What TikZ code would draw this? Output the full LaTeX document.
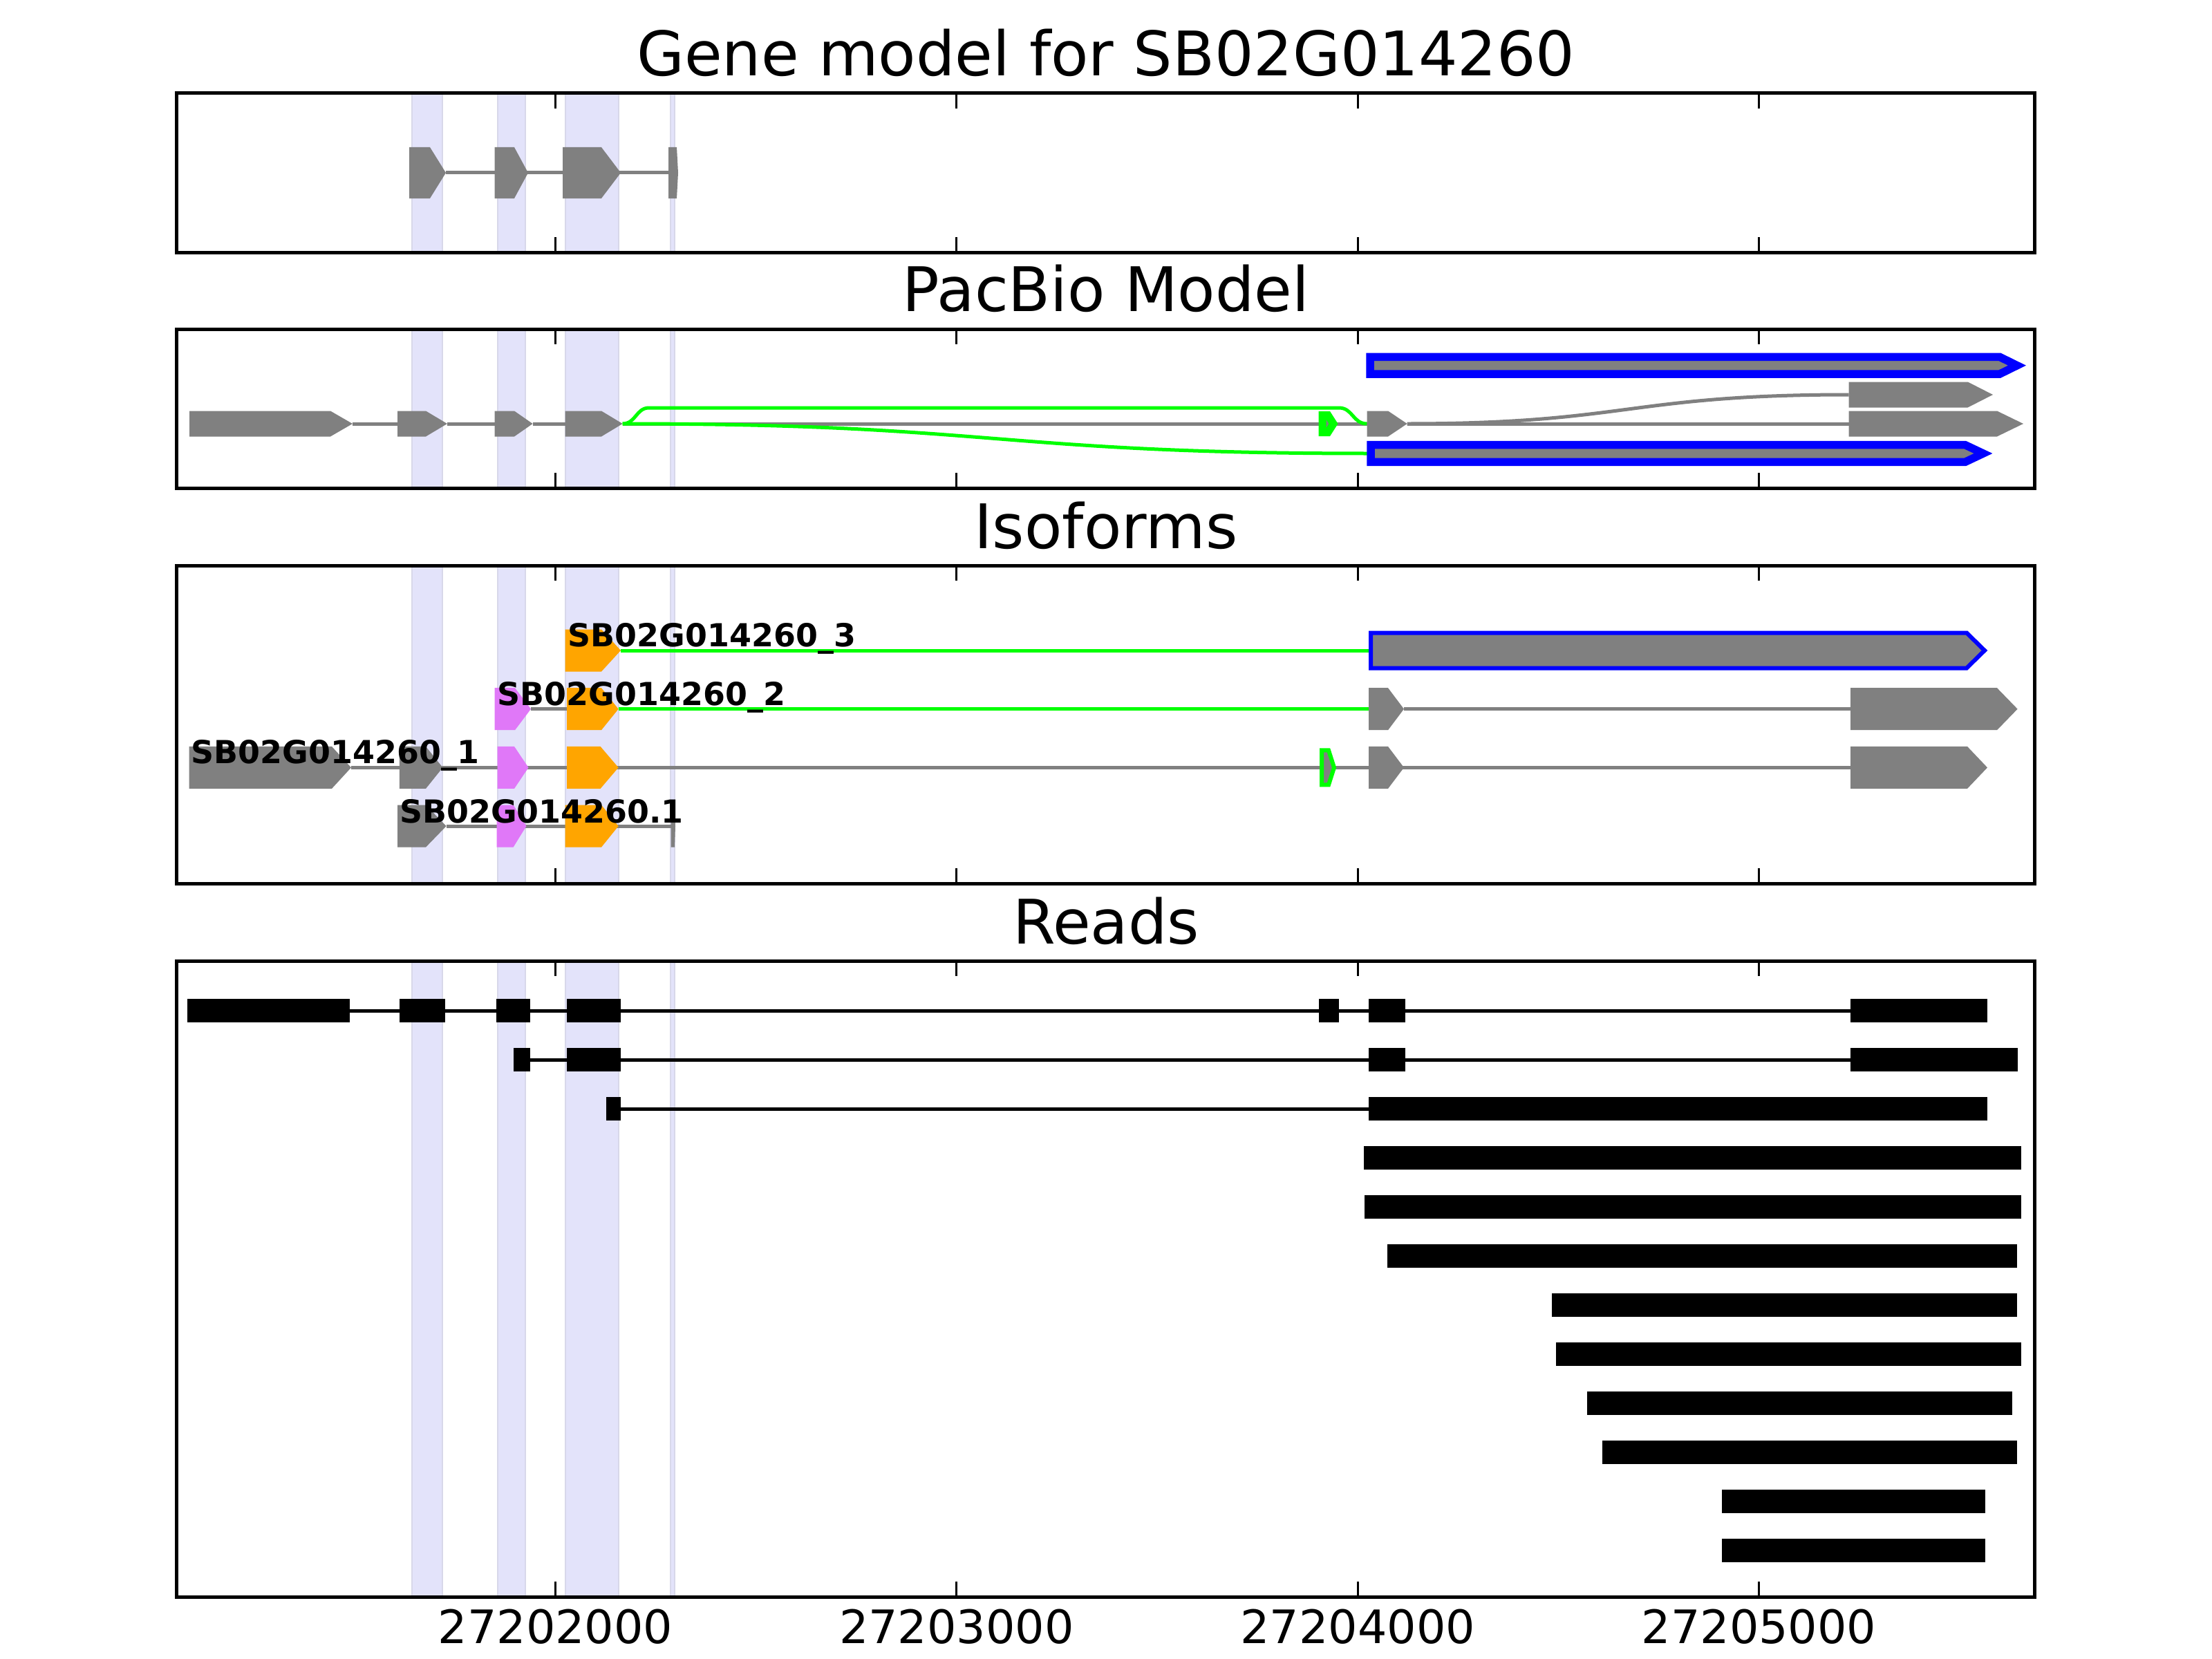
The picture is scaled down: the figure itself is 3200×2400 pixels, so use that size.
\documentclass[tikz,border=0pt]{standalone}
\usepackage{fontspec}
\setmainfont{DejaVu Sans}
\definecolor{exgray}{RGB}{128,128,128}
\definecolor{orng}{RGB}{255,165,0}
\definecolor{viol}{RGB}{224,120,248}
\definecolor{grn}{RGB}{0,255,0}
\definecolor{blu}{RGB}{0,0,255}
\definecolor{bandfill}{RGB}{227,227,250}
\definecolor{bandedge}{RGB}{216,216,234}
\newcommand{\gexon}[6]{\path[#6] (#1,#4-#5) -- (#2,#4-#5) -- (#3,#4) -- (#2,#4+#5) -- (#1,#4+#5) -- cycle;}
\tikzset{
  ex/.style={fill=exgray},
  exo/.style={fill=orng},
  exv/.style={fill=viol},
  bluebox/.style={fill=exgray, draw=blu, line width=11.5pt},
  blueboxthin/.style={fill=exgray, draw=blu, line width=6pt},
  grnbox/.style={fill=exgray, draw=grn, line width=11pt},
  grnboxthin/.style={fill=exgray, draw=grn, line width=6pt},
  intron/.style={draw=exgray, line width=5pt},
  gline/.style={draw=grn, line width=5pt},
  rline/.style={draw=black, line width=5pt},
  frame/.style={draw=black, line width=5pt},
  tickmark/.style={draw=black, line width=2.8pt},
  band/.style={fill=bandfill, draw=bandedge, line width=2.5pt},
  ttl/.style={font=\fontsize{88.9}{100}\selectfont, inner sep=0pt},
  tklbl/.style={font=\fontsize{66.7}{80}\selectfont, inner sep=0pt},
  lbl/.style={font=\fontsize{45.9}{54}\selectfont\bfseries, inner sep=0pt},
}
\begin{document}
\begin{tikzpicture}[x=1pt,y=-1pt]
\useasboundingbox (0,0) rectangle (3200,2400);
\fill[white] (0,0) rectangle (3200,2400);

% ---------- shaded exon bands in every panel ----------
\foreach \pt/\pb in {135/365, 476/706, 818/1278, 1390/2310}{
  \foreach \bl/\br in {596/640, 720/760, 818/895, 970/976}{
    \path[band] (\bl,\pt) rectangle (\br,\pb);
  }
}

% ---------- Panel 1: gene model ----------
\draw[intron] (645,250) -- (967,250);
\gexon{592}{622}{645}{250}{37}{ex}
\gexon{715.5}{744}{764}{250}{37}{ex}
\gexon{814}{870}{898}{250}{37}{ex}
\gexon{967}{979}{981}{250}{37}{ex}

% ---------- Panel 2: PacBio model ----------
\draw[intron] (510,613) -- (575,613);
\draw[intron] (647,613) -- (715.5,613);
\draw[intron] (770.6,613) -- (817.6,613);
\draw[intron] (900.7,613) -- (1977.5,613);
\draw[intron] (2035.7,613) -- (2674.5,613);
\draw[intron] (2035.7,613) .. controls (2355,613) and (2355,571) .. (2674.5,571);
\draw[gline] (900.7,613) .. controls (920,613) and (920,590) .. (939,590) -- (1937,590) .. controls (1957,590) and (1957,613) .. (1977.5,613);
\draw[gline] (900.7,613) .. controls (1439,613) and (1439,656) .. (1983,656);
\gexon{274}{478}{510}{613}{18.5}{ex}
\gexon{575}{616}{647}{613}{18.5}{ex}
\gexon{715.5}{744}{770.6}{613}{18.5}{ex}
\gexon{817.6}{870}{900.7}{613}{18.5}{ex}
\gexon{1913}{1921}{1929}{613}{12.5}{grnbox}
\gexon{1977.5}{2008}{2035.7}{613}{18.5}{ex}
\gexon{2674.5}{2889}{2927}{613}{18.5}{ex}
\gexon{2674.5}{2846.7}{2883}{571}{18.5}{ex}
\gexon{1982}{2893}{2918}{528.7}{12.3}{bluebox}
\gexon{1983}{2843}{2869}{656}{12.3}{bluebox}

% ---------- Panel 3: isoforms ----------
% row 1 (y=941)
\draw[gline] (898,941) -- (1983,941);
\gexon{817.6}{870}{898}{941}{30.5}{exo}
\gexon{1983}{2845}{2871}{941}{25.5}{blueboxthin}
% row 2 (y=1025.7)
\draw[intron] (768,1025.7) -- (820,1025.7);
\draw[gline] (894.6,1025.7) -- (1980,1025.7);
\draw[intron] (2031,1025.7) -- (2677,1025.7);
\gexon{715.5}{745}{768}{1025.7}{30.5}{exv}
\gexon{820}{870}{894.6}{1025.7}{30.5}{exo}
\gexon{1980}{2008}{2031}{1025.7}{30.5}{ex}
\gexon{2677}{2889}{2918.6}{1025.7}{30.5}{ex}
% row 3 (y=1110.4)
\draw[intron] (508,1110.4) -- (2677,1110.4);
\gexon{273.7}{480}{508}{1110.4}{30.5}{ex}
\gexon{577.8}{616}{640.5}{1110.4}{30.5}{ex}
\gexon{719.6}{744}{764.5}{1110.4}{30.5}{exv}
\gexon{820}{868.6}{894.6}{1110.4}{30.5}{exo}
\gexon{1912}{1922}{1930}{1110.4}{25}{grnboxthin}
\gexon{1980}{2008}{2031}{1110.4}{30.5}{ex}
\gexon{2677}{2846}{2875}{1110.4}{30.5}{ex}
% row 4 (y=1195.1)
\draw[intron] (645.6,1195.1) -- (970.6,1195.1);
\gexon{575}{616}{645.6}{1195.1}{30.5}{ex}
\gexon{718.6}{742.6}{761.4}{1195.1}{30.5}{exv}
\gexon{817.6}{870}{894.6}{1195.1}{30.5}{exo}
\gexon{970.6}{976}{977}{1195.1}{30.5}{ex}
% labels
\node[lbl, anchor=base west] (lab3) at (821.6,935) {SB02G014260\_3};
\node[lbl, anchor=base west] (lab2) at (719.6,1020) {SB02G014260\_2};
\node[lbl, anchor=base west] (lab1) at (276.7,1104) {SB02G014260\_1};
\node[lbl, anchor=base west] (lab0) at (578,1190) {SB02G014260.1};

% ---------- Panel 4: reads ----------
\draw[rline] (506,1462) -- (2677,1462);
\foreach \a/\b in {270.6/506, 577.8/644, 718/766.5, 820/898, 1908/1937, 1980/2033, 2677/2875}{
  \fill[black] (\a,1445) rectangle (\b,1479);
}
\draw[rline] (766.5,1533) -- (2677,1533);
\foreach \a/\b in {742.5/766.5, 820/898, 1980/2033, 2677/2918.6}{
  \fill[black] (\a,1516) rectangle (\b,1550);
}
\draw[rline] (898,1604) -- (1980,1604);
\foreach \a/\b in {876.7/898, 1980/2875}{
  \fill[black] (\a,1587) rectangle (\b,1621);
}
\foreach \yc/\a/\b in {1675/1973/2923.5, 1746/1974/2923.5, 1817/2007/2918, 1888/2245/2918, 1959/2251/2923.5, 2030/2295.5/2910.6, 2101/2318/2918, 2172/2491/2871.5, 2243/2491/2871.5}{
  \fill[black] (\a,\yc-17) rectangle (\b,\yc+17);
}

% ---------- frames and ticks ----------
\foreach \pt/\pb in {135/365, 476/706, 818/1278, 1390/2310}{
  \foreach \tx in {803.5,1383.8,1964.2,2544.5}{
    \draw[tickmark] (\tx,\pt) -- (\tx,\pt+22);
    \draw[tickmark] (\tx,\pb) -- (\tx,\pb-22);
  }
  \draw[frame] (255,\pt) rectangle (2943,\pb);
}

% ---------- titles ----------
\node[ttl, anchor=base] (t1) at (1600,110) {Gene model for SB02G014260};
\node[ttl, anchor=base] (t2) at (1600,450) {PacBio Model};
\node[ttl, anchor=base] (t3) at (1600,793) {Isoforms};
\node[ttl, anchor=base] (t4) at (1600,1365) {Reads};

% ---------- tick labels ----------
\node[tklbl, anchor=base] (x1) at (803.5,2377) {27202000};
\node[tklbl, anchor=base] (x2) at (1383.8,2377) {27203000};
\node[tklbl, anchor=base] (x3) at (1964.2,2377) {27204000};
\node[tklbl, anchor=base] (x4) at (2544.5,2377) {27205000};
\end{tikzpicture}
\end{document}
